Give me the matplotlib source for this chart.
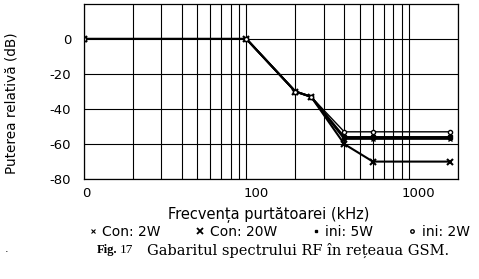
import numpy as np
import matplotlib
matplotlib.use("Agg")
from matplotlib import pyplot as plt
from matplotlib.lines import Line2D
import matplotlib.transforms as mtransforms

# frequency offsets (kHz) and relative power (dB) for each mask
freq = [10, 100, 200, 250, 400, 600, 1800]
con_2w = [0, 0, -30, -33, -57, -57, -57]
con_20w = [0, 0, -30, -33, -60, -70, -70]
ini_5w = [0, 0, -30, -33, -56, -56, -56]
ini_2w = [0, 0, -30, -33, -53, -53, -53]

xticks = [10, 100, 1000]
xtick_labels = ["0", "100", "1000"]
yticks = [0, -20, -40, -60, -80]

plt.rcParams['font.family'] = ['DejaVu Sans']
plt.rcParams['axes.unicode_minus'] = False

fig = plt.figure(figsize=(4.79, 2.79), dpi=100)
ax = fig.add_axes([0.175, 0.358, 0.781, 0.628])

ax.plot(freq, con_20w, color='k', lw=1.5, marker='x', ms=5, mew=1.5)
ax.plot(freq, con_2w, color='k', lw=1.5, marker='x', ms=3, mew=1)
ax.plot(freq, ini_5w, color='k', lw=1.5, marker='s', ms=2.5)
ax.plot(freq, ini_2w, color='k', lw=1.0, marker='o', ms=3, mfc='white')

ax.set_xscale('log')
ax.set_xlim(10, 2000)
ax.set_ylim(-80, 20)
ax.set_xticks(xticks)
ax.set_xticklabels(xtick_labels)
ax.xaxis.set_minor_formatter(plt.NullFormatter())
ax.set_yticks(yticks)
ax.grid(True, which='both', axis='x', color='k', lw=0.8)
ax.grid(True, which='major', axis='y', color='k', lw=0.8)
ax.tick_params(which='both', length=0, labelsize=9.5)
ax.tick_params(axis='y', pad=9)
ax.tick_params(axis='x', pad=6)
for s in ax.spines.values():
    s.set_color('k')
    s.set_linewidth(0.9)

# shift x tick labels to the right like the original
for lab, dx in zip(ax.get_xticklabels(), [2, 7, 7]):
    shift = mtransforms.ScaledTranslation(dx / 72, 0, fig.dpi_scale_trans)
    lab.set_transform(lab.get_transform() + shift)

fig.text(0.025, 0.631, "Puterea relativă (dB)", rotation=90, ha='center', va='center',
         fontsize=9.8)
fig.text(0.56, 0.229, "Frecvența purtătoarei (kHz)", ha='center', va='center', fontsize=10.5)

handles = [
    Line2D([], [], color='k', ls='none', marker='x', ms=3, mew=0.8),
    Line2D([], [], color='k', ls='none', marker='x', ms=4, mew=1.3),
    Line2D([], [], color='k', ls='none', marker='s', ms=2),
    Line2D([], [], color='k', ls='none', marker='o', ms=2.5, mfc='white'),
]
fig.legend(handles, ["Con: 2W", "Con: 20W", "ini: 5W", "ini: 2W"],
           loc='center', bbox_to_anchor=(0.583, 0.168), ncol=4, frameon=False,
           fontsize=10, handlelength=0.6, handletextpad=0.4, columnspacing=2.5)

fig.text(0.203, 0.104, "Fig.", fontsize=9, fontweight='bold', family='Liberation Serif',
         va='center')
fig.text(0.25, 0.104, "17", fontsize=9.5, family='Liberation Serif', va='center')
fig.text(0.307, 0.104, "Gabaritul spectrului RF în rețeaua GSM.", fontsize=10.5,
         family='DejaVu Serif', va='center')
fig.text(0.01, 0.095, ".", fontsize=8)

fig.savefig("out.png", dpi=100)
